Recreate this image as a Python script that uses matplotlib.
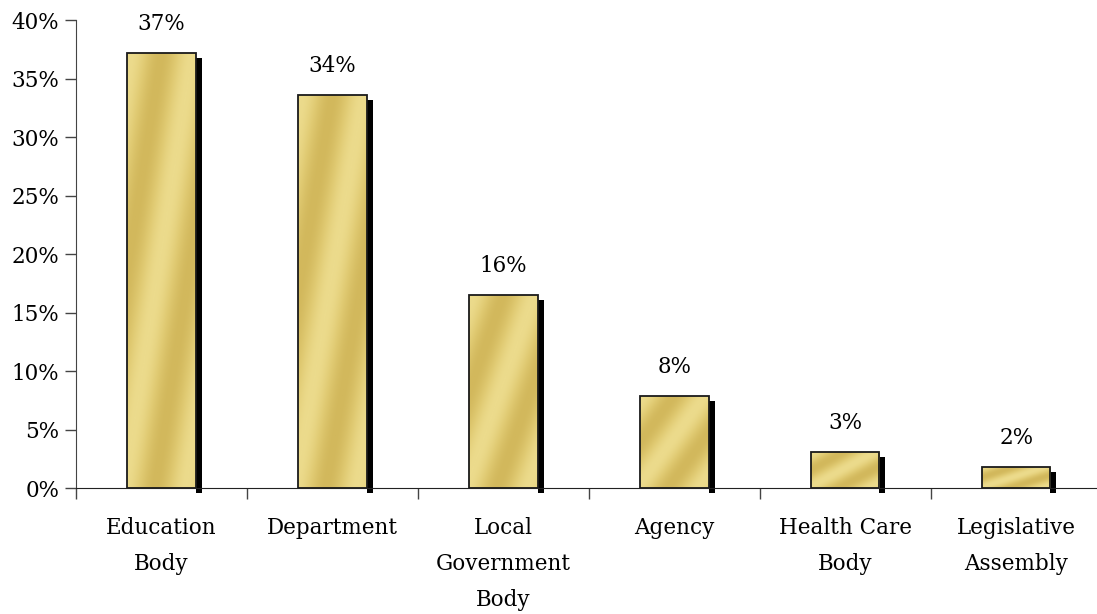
import numpy as np
import matplotlib.pyplot as plt
from matplotlib.patches import Rectangle
from matplotlib.colors import LinearSegmentedColormap

categories = ["Education\nBody", "Department", "Local\nGovernment\nBody",
              "Agency", "Health Care\nBody", "Legislative\nAssembly"]
shares = [37.2, 33.6, 16.5, 7.9, 3.1, 1.8]
y_ticks = [0, 5, 10, 15, 20, 25, 30, 35, 40]

plt.rcParams['font.family'] = ['DejaVu Serif']

gold = LinearSegmentedColormap.from_list(
    "gold", ["#d2b85c", "#e0ca72", "#ecdb8c"])

fig = plt.figure(figsize=(10.97, 6.14), dpi=100)
ax = fig.add_axes([0.0693, 0.2052, 0.935, 0.7622])

width = 0.4
x = np.arange(len(categories))

# soft diagonal banded fill, in coordinates normalised to each bar
u, v = np.meshgrid(np.linspace(0, 1, 80), np.linspace(0, 1, 200))
bands = 0.5 + 0.5 * np.cos(2 * np.pi * (1.1 * (u - v) + 0.05))

dx = 0.035  # shadow width in category units
dy = 0.45   # shadow offset in percent

for xi, h in zip(x, shares):
    left = xi - width / 2
    # black drop shadow strip on the right-hand side
    ax.add_patch(Rectangle((left + width, -dy), dx, h, facecolor='black',
                           edgecolor='none', clip_on=False, zorder=1))
    rect = Rectangle((left, 0), width, h, facecolor='none',
                     edgecolor='#1a1a1a', linewidth=1.3, zorder=3)
    ax.add_patch(rect)
    img = ax.imshow(bands, cmap=gold, extent=(left, left + width, 0, h),
                    origin='lower', aspect='auto', interpolation='bilinear',
                    vmin=0, vmax=1, zorder=2)
    img.set_clip_path(rect)
    ax.annotate(f"{round(h)}%", (xi, h), xytext=(0, 13),
                textcoords='offset points', ha='center', va='bottom',
                fontsize=15.5)

ax.set_xlim(-0.5, len(categories) - 0.5)
ax.set_ylim(0, 40)
ax.set_yticks(y_ticks)
ax.set_yticklabels([f"{t}%" for t in y_ticks], fontsize=15.5)

# category names sit between the boundary ticks
ax.set_xticks(np.arange(len(categories) + 1) - 0.5)
ax.set_xticklabels([])
ax.set_xticks(x, minor=True)
ax.set_xticklabels(categories, minor=True, fontsize=15.5, linespacing=1.83)
ax.tick_params(axis='x', which='minor', length=0, pad=21)
ax.tick_params(axis='x', which='major', length=8, width=1, color='#444444')
ax.tick_params(axis='y', length=8, width=1, color='#444444', pad=4)

for side in ['top', 'right']:
    ax.spines[side].set_visible(False)
ax.spines['left'].set_color('#444444')
ax.spines['bottom'].set_color('#222222')

fig.savefig("out.png", dpi=100)
